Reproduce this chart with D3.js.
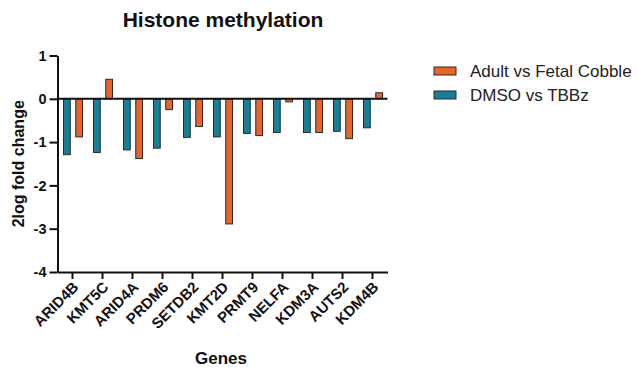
<!DOCTYPE html>
<html>
<head>
<meta charset="utf-8">
<script src="https://cdn.jsdelivr.net/npm/d3@7"></script>
<style>
  body { margin: 0; background: #fff; }
  svg { font-family: "Liberation Sans", Arial, sans-serif; }
  .axis path, .axis line { stroke: #111; stroke-width: 2; }
  .axis text { font-weight: bold; fill: #111; }
</style>
</head>
<body>
<svg id="chart" width="638" height="370"></svg>
<script>
var genes = ["ARID4B", "KMT5C", "ARID4A", "PRDM6", "SETDB2", "KMT2D", "PRMT9", "NELFA", "KDM3A", "AUTS2", "KDM4B"];
var seriesNames = ["Adult vs Fetal Cobble", "DMSO vs TBBz"];
var adultFetal = [-0.88, 0.45, -1.38, -0.25, -0.64, -2.89, -0.85, -0.07, -0.78, -0.92, 0.14];
var dmsoTbbz = [-1.29, -1.24, -1.18, -1.14, -0.89, -0.88, -0.80, -0.78, -0.78, -0.75, -0.67];
var yTicks = [1, 0, -1, -2, -3, -4];
var colors = ["#e8652a", "#1a7e97"];

var svg = d3.select("#chart");

var x = d3.scaleBand()
    .domain(genes)
    .range([57.5, 387.5]);
var y = d3.scaleLinear()
    .domain([-4, 1])
    .range([272, 55.5]);
// teal left, orange right of the tick
var sub = d3.scaleBand()
    .domain(["dmso", "adult"])
    .range([-9, 10])
    .paddingInner(0.45);

var rows = genes.map(function(g, i) {
    return {gene: g, adult: adultFetal[i], dmso: dmsoTbbz[i]};
});

/* 막대 */
var groups = svg.append("g").selectAll("g")
    .data(rows)
    .enter().append("g")
    .attr("transform", function(d) { return "translate(" + (x(d.gene) + x.bandwidth() / 2) + ",0)"; });

groups.selectAll("rect")
    .data(function(d) { return [{k: "dmso", v: d.dmso, c: colors[1]}, {k: "adult", v: d.adult, c: colors[0]}]; })
    .enter().append("rect")
    .attr("x", function(d) { return sub(d.k); })
    .attr("width", sub.bandwidth())
    .attr("y", function(d) { return y(Math.max(0, d.v)); })
    .attr("height", function(d) { return Math.abs(y(d.v) - y(0)); })
    .attr("fill", function(d) { return d.c; })
    .attr("stroke", "#2a2a2a")
    .attr("stroke-width", 1);

/* zero line */
svg.append("line")
    .attr("x1", 57.5).attr("x2", 387.5)
    .attr("y1", y(0)).attr("y2", y(0))
    .attr("stroke", "#111").attr("stroke-width", 2);

/* y axis */
svg.append("g")
    .attr("class", "axis")
    .attr("transform", "translate(57.5,0)")
    .call(d3.axisLeft(y).tickValues(yTicks).tickSize(8).tickSizeOuter(0).tickPadding(3)
        .tickFormat(function(d) { return String(d); }))
    .selectAll("text").style("font-size", "14.5px");

/* x axis */
var xAxis = svg.append("g")
    .attr("class", "axis")
    .attr("transform", "translate(0," + y(-4) + ")")
    .call(d3.axisBottom(x).tickSize(7).tickSizeOuter(0));
xAxis.selectAll("text")
    .style("font-size", "15px")
    .style("text-anchor", "end")
    .attr("dx", 0).attr("dy", 0)
    .attr("transform", "translate(7,16) rotate(-45)")
    .attr("y", 0).attr("x", 0);

/* titles */
svg.append("text")
    .attr("x", 223).attr("y", 27)
    .attr("text-anchor", "middle")
    .style("font-size", "21px").style("font-weight", "bold").attr("fill", "#111")
    .text("Histone methylation");

svg.append("text")
    .attr("transform", "translate(24," + y(-1.5) + ") rotate(-90)")
    .attr("text-anchor", "middle")
    .style("font-size", "16px").style("font-weight", "bold").attr("fill", "#111")
    .text("2log fold change");

svg.append("text")
    .attr("x", 221).attr("y", 364)
    .attr("text-anchor", "middle")
    .style("font-size", "17px").style("font-weight", "bold").attr("fill", "#111")
    .text("Genes");

/* legend */
var legend = svg.append("g").selectAll("g")
    .data(seriesNames)
    .enter().append("g")
    .attr("transform", function(d, i) { return "translate(434," + (67 + i * 24) + ")"; });
legend.append("rect")
    .attr("width", 22).attr("height", 8)
    .attr("fill", function(d, i) { return colors[i]; })
    .attr("stroke", "#2a2a2a").attr("stroke-width", 1);
legend.append("text")
    .attr("x", 36).attr("y", 10)
    .style("font-size", "17px").attr("fill", "#222")
    .text(function(d) { return d; });
</script>
</body>
</html>
